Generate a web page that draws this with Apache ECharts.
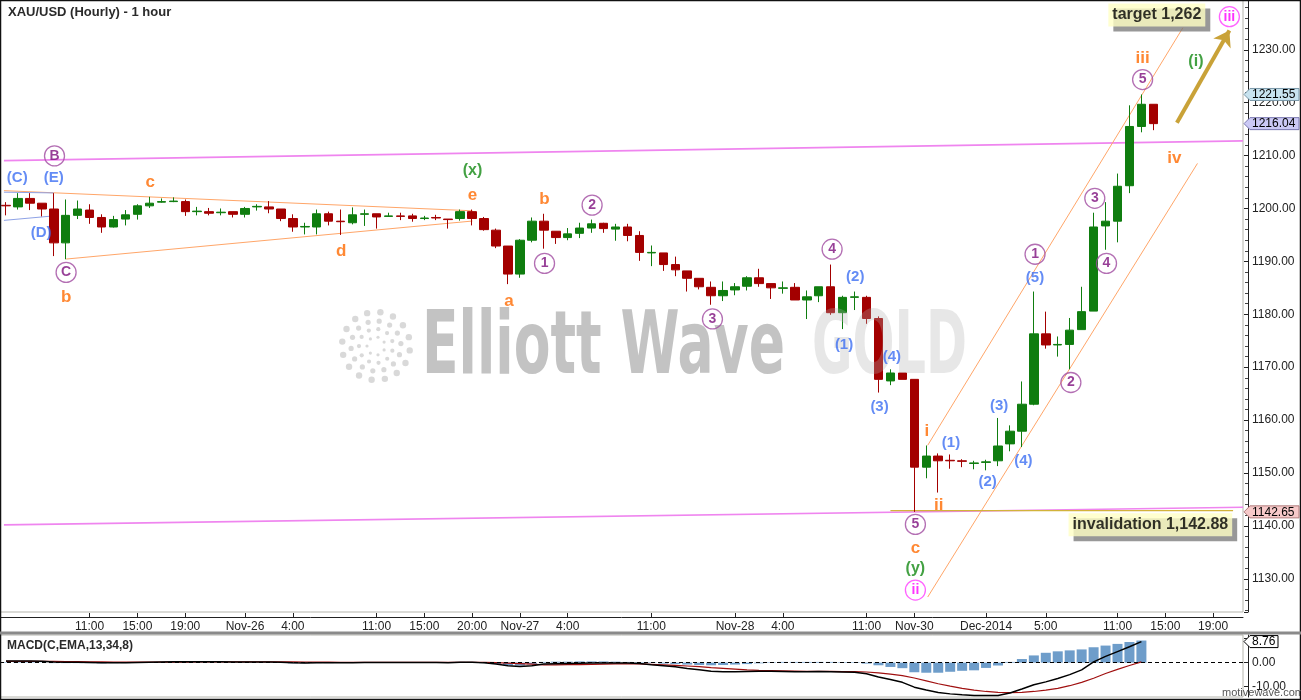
<!DOCTYPE html>
<html><head><meta charset="utf-8">
<script src="https://cdn.jsdelivr.net/npm/echarts@6/dist/echarts.min.js"></script>
<style>html,body{margin:0;padding:0;background:#fff}#c{width:1301px;height:700px}</style>
</head><body><div id="c"></div>
<script>
// ---------- time axis (hourly sessions) ----------
const sessions = [['Nov-25',4,23],['Nov-26',0,16],['Nov-26',18,23],['Nov-27',0,13],['Nov-27',20,23],['Nov-28',0,14],['Nov-30',18,23],['Dec-01',0,21]];
const tickTimes = ['Nov-25 11:00','Nov-25 15:00','Nov-25 19:00','Nov-26 00:00','Nov-26 04:00','Nov-26 11:00','Nov-26 15:00','Nov-26 20:00','Nov-27 00:00','Nov-27 04:00','Nov-27 11:00','Nov-28 00:00','Nov-28 04:00','Nov-28 11:00','Nov-30 18:00','Dec-01 00:00','Dec-01 05:00','Dec-01 11:00','Dec-01 15:00','Dec-01 19:00'];
const tickTexts = ['11:00','15:00','19:00','Nov-26','4:00','11:00','15:00','20:00','Nov-27','4:00','11:00','Nov-28','4:00','11:00','Nov-30','Dec-2014','5:00','11:00','15:00','19:00'];

// ---------- hourly candles [open, high, low, close] ----------
const ohlc = [
[1200.6,1201.2,1198.7,1200.5],[1200.3,1202.9,1199.8,1201.9],[1201.9,1202.9,1199.7,1201.0],[1201.0,1201.0,1198.5,1199.9],
[1199.9,1202.9,1191.0,1193.5],[1193.5,1201.7,1190.4,1198.7],[1198.7,1201.5,1198.0,1199.9],[1199.7,1200.8,1197.1,1198.3],
[1198.3,1198.9,1195.4,1196.5],[1196.5,1198.6,1196.4,1197.9],[1198.0,1199.7,1196.8,1198.8],[1198.9,1200.8,1197.9,1200.5],
[1200.5,1202.2,1200.1,1201.0],[1201.2,1201.9,1201.1,1201.3],[1201.3,1202.1,1201.2,1201.4],[1201.3,1201.7,1198.6,1199.4],
[1199.4,1200.3,1198.7,1199.5],[1199.4,1200.1,1198.7,1199.1],[1199.2,1200.0,1198.7,1199.3],[1199.4,1199.4,1198.3,1198.9],
[1198.9,1200.3,1198.3,1200.0],[1200.3,1200.8,1199.6,1200.4],[1200.3,1201.4,1199.1,1199.9],[1199.9,1199.9,1197.6,1198.1],
[1198.1,1198.9,1195.6,1196.5],[1196.5,1197.3,1195.1,1196.6],[1196.5,1199.8,1195.1,1199.0],[1199.0,1199.4,1196.8,1197.6],
[1197.6,1199.8,1195.0,1197.5],[1197.3,1200.2,1197.0,1198.8],[1198.9,1199.8,1196.7,1199.0],[1199.0,1199.0,1196.2,1198.4],
[1198.5,1199.2,1198.5,1198.6],[1198.6,1199.2,1197.8,1198.5],[1198.6,1199.0,1197.5,1198.1],[1198.1,1198.6,1197.8,1198.2],
[1198.3,1198.8,1197.8,1198.2],[1198.0,1198.0,1196.2,1197.9],[1198.1,1199.8,1197.7,1199.4],[1199.4,1199.8,1196.8,1198.1],
[1198.1,1198.4,1195.8,1196.0],[1195.9,1196.2,1192.5,1192.9],[1192.9,1192.9,1185.7,1187.6],[1187.6,1194.2,1186.9,1194.0],
[1194.0,1198.3,1193.6,1197.6],[1197.6,1199.0,1192.4,1195.9],[1195.7,1195.7,1193.3,1194.5],[1194.5,1196.3,1194.0,1195.2],
[1195.3,1197.3,1194.4,1196.3],[1196.3,1197.9,1195.4,1197.1],[1197.2,1197.3,1195.4,1196.2],[1196.1,1197.1,1193.9,1196.5],
[1196.5,1197.1,1193.8,1194.9],[1194.9,1195.7,1190.1,1191.7],[1191.6,1193.0,1189.1,1191.7],[1191.6,1191.6,1188.2,1189.4],
[1189.4,1190.9,1187.2,1188.4],[1188.2,1188.2,1184.3,1186.8],[1186.8,1186.8,1184.7,1185.2],[1185.1,1186.2,1181.8,1183.5],
[1183.5,1186.2,1182.5,1184.5],[1184.6,1185.9,1183.6,1185.2],[1185.3,1187.2,1184.5,1186.9],[1186.9,1188.6,1185.2,1185.8],
[1185.8,1185.8,1182.9,1185.0],[1184.9,1186.2,1183.9,1185.0],[1185.1,1185.9,1182.7,1182.7],[1182.7,1184.5,1179.1,1183.3],
[1183.5,1185.2,1182.3,1185.2],[1185.2,1189.4,1179.9,1180.3],[1180.3,1183.5,1177.2,1183.2],[1183.2,1184.3,1180.8,1183.3],
[1183.2,1183.5,1178.2,1179.2],[1179.2,1179.6,1165.2,1167.7],[1167.4,1169.6,1166.6,1168.9],[1168.9,1168.9,1167.7,1167.7],
[1167.7,1167.7,1142.65,1151.1],[1151.1,1155.2,1149.0,1153.2],[1153.2,1153.7,1146.3,1152.3],[1152.4,1153.5,1150.8,1152.3],
[1152.3,1152.6,1151.1,1152.2],[1151.8,1152.3,1150.7,1151.9],[1152.0,1152.5,1150.5,1152.1],[1152.3,1160.4,1151.3,1155.1],
[1155.5,1159.0,1154.1,1157.9],[1157.9,1167.3,1154.9,1163.0],[1163.0,1184.3,1162.8,1176.3],[1176.3,1180.5,1173.5,1174.2],
[1174.2,1175.8,1172.0,1174.3],[1174.3,1179.3,1169.6,1177.0],[1177.1,1185.2,1177.1,1180.5],[1180.6,1199.2,1180.6,1196.5],
[1196.7,1201.2,1192.2,1197.6],[1197.6,1206.6,1193.6,1204.2],[1204.3,1219.5,1202.9,1215.5],[1215.5,1221.55,1214.4,1219.7],
[1219.7,1219.7,1214.8,1216.04]
];

// ---------- MACD(13,34,8) ----------
const macdLine = [0.7,0.7,0.7,0.6,0.3,0.2,0.2,0.1,0.0,0.0, 0.0,0.1,0.2,0.3,0.4,0.4,0.4,0.4,0.4,0.3, 0.3,0.3,0.3,0.2,0.0,-0.1,0.0,0.0,0.0,0.0,
 0.1,0.1,0.1,0.1,0.1,0.1,0.1,0.0,0.2,0.2, -0.1,-0.6,-1.3,-1.6,-1.3,-0.6,-0.5,-0.4,-0.3,-0.2, -0.1,-0.1,-0.2,
 -0.4,-0.9,-1.3,-1.7,-2.4,-3.0,-3.6,-3.8,-3.8,-3.7,-3.6,-3.6,-3.7,-3.8,-3.8,-3.7,-3.8,-3.9,-4.0,-4.6,-6.0,-7.0,-8.2,-10.2,-11.4,-12.4,
 -13.0,-13.4,-13.7,-13.7,-13.7,-12.6,-11.0,-9.2,-8.0,-6.6,-5.0,-3.0,0.3,2.6,4.6,6.6,8.76];
const signalLine = [0.5,0.5,0.5,0.5,0.5,0.4,0.4,0.3,0.3,0.2, 0.2,0.2,0.2,0.2,0.2,0.2,0.3,0.3,0.3,0.3, 0.3,0.3,0.3,0.3,0.3,0.2,0.2,0.2,0.1,0.1,
 0.1,0.1,0.1,0.1,0.1,0.1,0.1,0.1,0.1,0.1, 0.1,0.0,-0.2,-0.4,-0.6,-0.9,-0.9,-0.8,-0.8,-0.7, -0.6,-0.5,-0.5,
 -0.5,-0.7,-0.9,-1.1,-1.4,-1.7,-2.1,-2.4,-2.7,-3.0,-3.2,-3.3,-3.4,-3.5,-3.6,-3.6,-3.6,-3.7,-3.7,-3.9,-4.3,-4.8,-5.4,-6.4,-7.6,-8.8,
 -9.8,-10.7,-11.4,-12.0,-12.4,-12.5,-12.4,-12.0,-11.4,-10.7,-9.6,-8.2,-6.5,-4.5,-2.8,-1.2,0.3];
const histogram = [0.2,0.2,0.2,0.1,-0.2,-0.2,-0.2,-0.2,-0.3,-0.2, -0.2,-0.1,0.0,0.1,0.2,0.2,0.1,0.1,0.1,0.0, 0.0,0.0,0.0,-0.1,-0.3,-0.3,-0.2,-0.2,-0.1,-0.1,
 0.0,0.0,0.0,0.0,0.0,0.0,0.0,-0.1,0.3,0.3, -0.2,-0.6,-1.1,-1.2,-0.7,0.3,0.4,0.4,0.5,0.5, 0.5,0.4,0.3,
 0.2,0.2,-0.4,-0.6,-0.8,-1.0,-1.1,-1.0,-0.8,-0.6,-0.3,0.2,0.3,0.3,0.3,0.3,0.3,0.2,0.2,-0.4,-1.1,-1.8,-2.3,-4.0,-4.2,-4.2,
 -3.8,-3.4,-3.2,-2.2,-1.2,0.3,1.5,3.0,4.1,4.7,5.1,5.5,6.4,7.1,7.8,8.6,9.2];

// ---------- annotations: [slot, price] ----------
const pinkLines = [[[-0.17,1209.04],[103.5,1212.77]], [[-0.17,1140.19],[103.5,1143.52]]];
const orangeLines = [[[-0.17,1203.37],[39.03,1199.56]], [[5.03,1190.44],[39.03,1197.63]], [[77.12,1155.23],[98.47,1234.16]], [[77.12,1126.55],[99.69,1208.52]]];
const blueLines = [[[-0.17,1203.08],[4.0,1202.94]], [[-0.17,1197.75],[4.0,1198.6]]];
const invalidationLine = [[74,1142.88],[102.67,1142.88]];
const targetArrow = [[97.97,1216.2],[102.36,1233.65]];

const blueLabels = [['(C)',0.94,1205.83],['(E)',4.0,1205.83],['(D)',2.94,1195.38],['(2)',71.06,1186.98],['(1)',70.12,1174.26],['(4)',74.12,1171.96],['(3)',73.09,1162.43],
 ['(1)',79.07,1155.65],['(2)',82.13,1148.3],['(3)',83.1,1162.62],['(4)',85.13,1152.29],['(5)',86.1,1186.92]];
const orangeLabels = [['c',12.07,1205.0],['d',28.05,1191.87],['e',39.03,1202.56],['b',5.03,1183.21],['a',42.09,1182.51],['b',45.06,1201.79],['c',76.09,1135.82],
 ['i',77.04,1157.8],['ii',78.04,1143.98],['iii',95.1,1228.45],['iv',97.75,1209.48]];
const greenLabels = [['(x)',39.03,1207.12],['(y)',76.09,1131.89],['(i)',99.56,1227.81]];
const purpleCircles = [['B',4.06,1209.94],['C',5.03,1187.92],['1',45.06,1189.62],['2',49.04,1200.63],['3',59.11,1179.12],['4',69.12,1192.31],['5',76.09,1140.28],
 ['1',86.1,1191.35],['2',89.1,1167.1],['3',91.1,1201.92],['4',92.08,1189.62],['5',95.1,1224.37]];
const magentaCircles = [['ii',76.09,1127.87],['iii',102.36,1236.25]];
const notes = [['target 1,262',96.29,1236.57],['invalidation 1,142.88',95.75,1140.22]];
const priceTags = [[1221.55,'#c8e3ef','#7a98a8'],[1216.04,'#cbc9f5','#7b79b0'],[1142.65,'#f6c9c9','#b07a7a']];
const macdTag = 8.76;

// ---------- build ----------
const FONT = '"Liberation Sans", Arial, Helvetica, sans-serif';
const UP = '#0f7d0f', DOWN = '#a30000';
const cats = [];
sessions.forEach(([d,h0,h1]) => { for (let h=h0; h<=h1; h++) cats.push(d+' '+String(h).padStart(2,'0')+':00'); });
const tickMap = {}; tickTimes.forEach((t,i)=>{ tickMap[t] = tickTexts[i]; });
const showTick = (i, v) => Object.prototype.hasOwnProperty.call(tickMap, v);

function lineSeries(pts, color, width) {
  return {type:'line', xAxisIndex:1, yAxisIndex:0, z:2, silent:true, symbol:'none', data:pts, lineStyle:{color, width}, animation:false};
}
function textSeries(items, color, size) {
  return {type:'scatter', xAxisIndex:1, yAxisIndex:0, z:6, silent:true, symbolSize:1, itemStyle:{color:'rgba(0,0,0,0)'},
    label:{show:true, position:'inside', formatter:p=>p.value[2], color, fontSize:size, fontWeight:'bold', fontFamily:FONT, textBorderWidth:0},
    data: items.map(([t,s,p])=>[s,p,t])};
}
function circleSeries(items, border, color) {
  return {type:'scatter', xAxisIndex:1, yAxisIndex:0, z:6, silent:true, symbol:'circle', symbolSize:20,
    itemStyle:{color:'rgba(255,255,255,0)', borderColor:border, borderWidth:1.3},
    label:{show:true, position:'inside', formatter:p=>p.value[2], color, fontSize:14, fontWeight:'bold', fontFamily:FONT, textBorderWidth:0},
    data: items.map(([t,s,p])=>[s,p,t])};
}

const series = [
  {type:'candlestick', xAxisIndex:0, yAxisIndex:0, z:3, barWidth:9, silent:true,
   data: ohlc.map(([o,h,l,c])=>[o,c,l,h]),
   itemStyle:{color:UP, color0:DOWN, borderColor:UP, borderColor0:DOWN, borderWidth:1}},
  ...pinkLines.map(l=>lineSeries(l,'#ef85ef',1.7)),
  ...orangeLines.map(l=>lineSeries(l,'#ffa669',1)),
  ...blueLines.map(l=>lineSeries(l,'#8ea2e6',1)),
  Object.assign(lineSeries(invalidationLine,'#d2b33a',1.2), {
    markLine:{silent:true, symbol:['none','arrow'], symbolSize:15, label:{show:false},
      lineStyle:{color:'#c9a238', width:4, type:'solid'},
      data:[[{coord:targetArrow[0]},{coord:targetArrow[1]}]]}
  }),
  textSeries(blueLabels,'#3d6ff2',15),
  textSeries(orangeLabels,'#ff6a00',17),
  textSeries(greenLabels,'#148a14',16),
  circleSeries(purpleCircles,'#a04ba0','#7d0f7d'),
  circleSeries(magentaCircles,'#ff3cff','#ff00ff'),
  {type:'scatter', xAxisIndex:1, yAxisIndex:0, z:7, silent:true, symbolSize:1, itemStyle:{color:'rgba(0,0,0,0)'},
   label:{show:true, position:'inside', formatter:p=>p.value[2], color:'#000', fontSize:16, fontWeight:'bold', fontFamily:FONT,
     backgroundColor:'#ffffc4', padding:[4,4,3,4], shadowColor:'rgba(120,120,120,0.95)', shadowOffsetX:5, shadowOffsetY:5, shadowBlur:0, textBorderWidth:0},
   data: notes.map(([t,s,p])=>[s,p,t])},
  // MACD panel
  {type:'bar', xAxisIndex:2, yAxisIndex:1, data:histogram, barWidth:10, itemStyle:{color:'#6e9dca'}, silent:true, z:2,
   markLine:{silent:true, symbol:'none', label:{show:false}, lineStyle:{color:'#000', type:[4,3], width:1}, data:[{yAxis:0}]}},
  {type:'line', xAxisIndex:2, yAxisIndex:1, data:signalLine, symbol:'none', lineStyle:{color:'#a01010', width:1.2}, silent:true, z:3},
  {type:'line', xAxisIndex:2, yAxisIndex:1, data:macdLine, symbol:'none', lineStyle:{color:'#000', width:1.5}, silent:true, z:4}
];

const option = {
  animation:false, backgroundColor:'#fff', textStyle:{fontFamily:FONT},
  grid:[{left:-4, right:58, top:0, height:612, show:true, borderColor:'#b5b5ad', borderWidth:1, backgroundColor:'rgba(0,0,0,0)'},
        {left:-4, right:58, top:635, height:62, show:true, borderColor:'#b5b5ad', borderWidth:1, backgroundColor:'rgba(0,0,0,0)'}],
  xAxis:[
    {type:'category', gridIndex:0, data:cats, boundaryGap:true, offset:5,
     axisLine:{show:true, onZero:false, lineStyle:{color:'#222'}},
     axisTick:{show:true, inside:true, length:4, alignWithLabel:true, interval:showTick, lineStyle:{color:'#222'}},
     axisLabel:{interval:showTick, formatter:v=>tickMap[v]||'', color:'#222', fontSize:12, margin:4, fontFamily:FONT},
     splitLine:{show:false}},
    {type:'value', gridIndex:0, min:-0.5, max:103.5, show:false, axisLine:{onZero:false}},
    {type:'category', gridIndex:1, data:cats, boundaryGap:true, show:false, axisLine:{onZero:false}}
  ],
  yAxis:[
    {type:'value', gridIndex:0, position:'right', min:1123.72, max:1239.41, splitNumber:11, offset:5,
     axisLine:{show:true, onZero:false, lineStyle:{color:'#222'}},
     axisTick:{show:true, inside:true, length:4, lineStyle:{color:'#222'}},
     minorTick:{show:true, splitNumber:5, length:3, lineStyle:{color:'#444'}},
     axisLabel:{showMinLabel:false, showMaxLabel:false, formatter:v=>v.toFixed(2), color:'#222', fontSize:12, margin:4, fontFamily:FONT},
     splitLine:{show:false}},
    {type:'value', gridIndex:1, position:'right', min:-14.3, max:11.5, splitNumber:3, offset:5,
     axisLine:{show:true, onZero:false, lineStyle:{color:'#222'}},
     axisTick:{show:true, inside:true, length:4, lineStyle:{color:'#222'}},
     axisLabel:{showMinLabel:false, showMaxLabel:false, formatter:v=>(v===0||v===-10)?v.toFixed(2):'', color:'#222', fontSize:12, margin:4, fontFamily:FONT},
     splitLine:{show:false}}
  ],
  series
};

const chart = echarts.init(document.getElementById('c'), null, {width:1301, height:700});
chart.setOption(option);

// ---------- decorations ----------
const measure = document.createElement('canvas').getContext('2d');
function fitScale(text, font, width) { measure.font = font; const w = measure.measureText(text).width; return w > 0 ? width / w : 1; }
const WM_FONT = 'bold 88px "DejaVu Sans", "Liberation Sans", sans-serif';
const g = [];
g.push({type:'rect', z:30, silent:true, shape:{x:0.5,y:0.5,width:1300,height:699}, style:{fill:'none', stroke:'#111', lineWidth:1.5}});
g.push({type:'rect', z:30, silent:true, shape:{x:0,y:631.5,width:1301,height:3}, style:{fill:'#8a8a8a'}});
g.push({type:'text', z:30, silent:true, x:8, y:6, style:{text:'XAU/USD (Hourly) - 1 hour', font:'bold 13px '+FONT, fill:'#2a2a2a', align:'left', verticalAlign:'top'}});
g.push({type:'text', z:30, silent:true, x:7, y:640, style:{text:'MACD(C,EMA,13,34,8)', font:'bold 12px '+FONT, fill:'#2a2a2a', align:'left', verticalAlign:'top'}});
g.push({type:'text', z:30, silent:true, x:1222, y:687, style:{text:'motivewave.com', font:'11px '+FONT, fill:'#555', align:'left', verticalAlign:'top'}});
// watermark
g.push({type:'text', z:4, silent:true, x:422, y:350, scaleX:fitScale('Elliott Wave', WM_FONT, 363), style:{text:'Elliott Wave', font:WM_FONT, fill:'rgba(135,135,135,0.5)', align:'left', verticalAlign:'middle'}});
g.push({type:'text', z:4, silent:true, x:812, y:350, scaleX:fitScale('GOLD', WM_FONT, 155), style:{text:'GOLD', font:WM_FONT, fill:'rgba(175,175,175,0.3)', align:'left', verticalAlign:'middle'}});
[[34,16,3.2],[25,14,2.6],[17,11,2.1],[9,7,1.6]].forEach(([r,n,s])=>{
  for (let k=0;k<n;k++){ const a=k/n*Math.PI*2 + r*0.05;
    g.push({type:'circle', z:4, silent:true, shape:{cx:376+r*Math.cos(a), cy:346+r*Math.sin(a), r:s}, style:{fill:'rgba(170,170,170,0.45)'}}); }
});
// price tags
function tag(y, text, fill, stroke, x0, w) {
  const h = 12;
  return {type:'group', z:40, silent:true, children:[
    {type:'polygon', z:40, shape:{points:[[x0,y],[x0+6,y-h/2],[x0+w,y-h/2],[x0+w,y+h/2],[x0+6,y+h/2]]}, style:{fill, stroke, lineWidth:1}},
    {type:'text', z:41, x:x0+8, y:y+0.5, style:{text, fill:'#000', font:'12px '+FONT, align:'left', verticalAlign:'middle'}}
  ]};
}
priceTags.forEach(([v,f,s])=>{ g.push(tag(chart.convertToPixel({yAxisIndex:0}, v), v.toFixed(2), f, s, 1244, 55)); });
g.push(tag(chart.convertToPixel({yAxisIndex:1}, macdTag), macdTag.toFixed(2), '#fff', '#000', 1244, 34));
chart.setOption({graphic:g});
</script></body></html>
